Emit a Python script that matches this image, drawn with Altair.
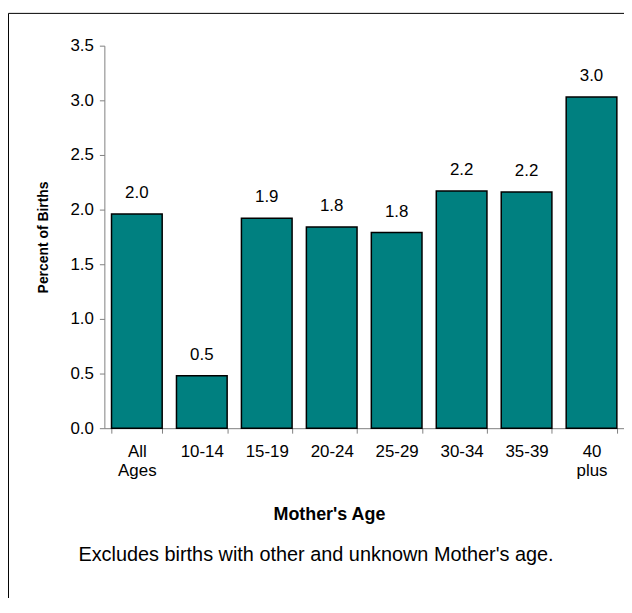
import altair as alt
import pandas as pd

ages = ["All Ages", "10-14", "15-19", "20-24", "25-29", "30-34", "35-39", "40 plus"]
percents = [1.96, 0.48, 1.92, 1.84, 1.79, 2.17, 2.16, 3.03]
y_ticks = [0.0, 0.5, 1.0, 1.5, 2.0, 2.5, 3.0, 3.5]
x_title = "Mother's Age"
y_title = "Percent of Births"
note = "Excludes births with other and unknown Mother's age."

df = pd.DataFrame({"age": ages, "pct": percents})

FONT = "Liberation Sans"
W, H = 523, 385

x_enc = alt.X(
    "age:N",
    sort=ages,
    scale=alt.Scale(paddingInner=0.22, paddingOuter=0.11),
    axis=alt.Axis(
        title=x_title,
        labelAngle=0,
        labelExpr="split(datum.label, ' ')",
        labelLineHeight=20,
        labelPadding=10,
        labelFontSize=17,
        tickBand="extent",
        tickSize=5,
        titleX=226,
        titleY=87,
        titleBaseline="middle",
        titleFontSize=18,
        titleFontWeight="bold",
    ),
)
y_enc = alt.Y(
    "pct:Q",
    scale=alt.Scale(domain=[0, 3.5], nice=False),
    axis=alt.Axis(
        title=y_title,
        values=y_ticks,
        format=".1f",
        grid=False,
        tickSize=5,
        labelPadding=6,
        labelFontSize=17,
        titleX=-61,
        titleY=H / 2,
        titleAngle=270,
        titleBaseline="middle",
        titleAlign="center",
        titleFontSize=14,
        titleFontWeight="bold",
    ),
)

base = alt.Chart(df)
bars = base.mark_bar(color="#008080", stroke="#000000", strokeWidth=1.5).encode(x=x_enc, y=y_enc)
labels = base.mark_text(dy=-16, baseline="alphabetic", fontSize=17, font=FONT, color="#000000").encode(
    x=alt.X("age:N", sort=ages),
    y=alt.Y("pct:Q"),
    text=alt.Text("pct:Q", format=".1f"),
)

single = alt.Data(values=[{}])
note_text = alt.Chart(single).mark_text(
    fontSize=20, font=FONT, color="#000000", baseline="middle", align="center"
).encode(x=alt.value(213), y=alt.value(513), text=alt.value(note))

frame_top = alt.Chart(single).mark_rule(color="#000000", strokeWidth=1).encode(
    x=alt.value(-96.5), x2=alt.value(530), y=alt.value(-32.5)
)
frame_left = alt.Chart(single).mark_rule(color="#000000", strokeWidth=1).encode(
    x=alt.value(-96.5), y=alt.value(-32.5), y2=alt.value(560)
)

chart = (
    alt.layer(bars, labels, note_text, frame_top, frame_left)
    .properties(
        width=W,
        height=H,
        autosize=alt.AutoSizeParams(type="none"),
        padding={"left": 97, "top": 36, "right": 0, "bottom": 169},
    )
    .configure_view(stroke=None)
    .configure_axis(
        labelFont=FONT,
        titleFont=FONT,
        labelColor="#000000",
        titleColor="#000000",
        domainColor="#808080",
        tickColor="#808080",
    )
)

chart.save("out.html", embed_options={"renderer": "svg", "actions": False})
